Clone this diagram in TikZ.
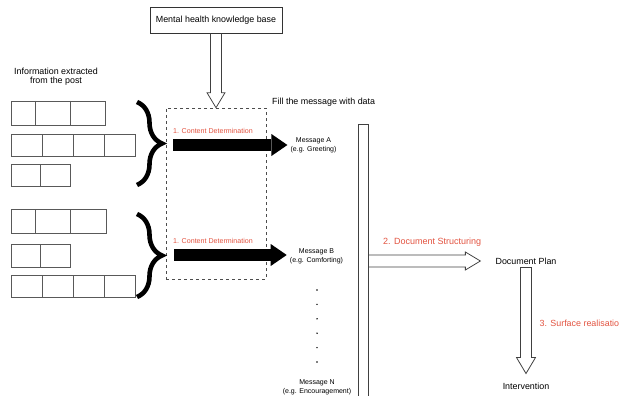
\documentclass[tikz,border=0pt]{standalone}
\usepackage{fontspec}
\setmainfont{Liberation Sans}
\usepackage{xcolor}
\usepackage{tikz}
\usetikzlibrary{arrows.meta,calc,decorations.pathreplacing}
\definecolor{stepred}{RGB}{226,83,64}

\begin{document}
\begin{tikzpicture}[
    x=1pt, y=-1pt,
    kbbox/.style={draw=black!80,line width=0.8pt,minimum width=132pt,minimum height=26pt,font=\fontsize{8.9}{10.5}\selectfont},
    txt/.style={font=\fontsize{8.9}{10.5}\selectfont,inner sep=3pt,align=center},
    msg/.style={font=\fontsize{7}{9.3}\selectfont,align=center,inner sep=3pt},
    steplabel/.style={text=stepred,inner sep=1pt},
    cell/.style={draw=black!65,line width=0.8pt},
    curly/.style={decorate,decoration={brace,amplitude=25pt},line width=4.6pt},
    fat/.style={line width=12pt,-{Triangle[length=16pt,width=22pt,line width=0pt]}},
    hollow/.style={draw=black!75,line width=0.8pt,line join=miter}
]
\useasboundingbox (0,0) rectangle (619,396);
\clip (0,0) rectangle (619,396);

%%% Top: knowledge base feeding the dashed box
\node[kbbox] (kb) at (216,20) {Mental health knowledge base};
\node[draw=black!70,dashed,line width=0.6pt,minimum width=100pt,minimum height=171pt,inner sep=0pt] (dash) at (216,193.5) {};
\node[txt,anchor=west] (fill) at (269,102) {Fill the message with data};
% open arrow kb -> dashed box
\draw[hollow] let \p1=(kb.south), \p2=(dash.north) in
    (\x1-5.5pt,\y1) -- (\x1-5.5pt,\y2+15pt) -- (\x1-9pt,\y2+15pt) -- (\x1,\y2)
    -- (\x1+9pt,\y2+15pt) -- (\x1+5.5pt,\y2+15pt) -- (\x1+5.5pt,\y1);

%%% Left: information extracted from the post
\node[txt] (info) at (56,77) {Information extracted\\[-1.2pt]from the post};
% first group of rows
\draw[cell] (11,101) rectangle (105,125) (35,101) -- (35,125) (70,101) -- (70,125);
\draw[cell] (11,134) rectangle (135,156) (42,134) -- (42,156) (73,134) -- (73,156) (104,134) -- (104,156);
\draw[cell] (11,164) rectangle (70,186) (40,164) -- (40,186);
% second group of rows
\draw[cell] (11,209) rectangle (106,233) (35,209) -- (35,233) (70,209) -- (70,233);
\draw[cell] (11,244) rectangle (70,267) (40,244) -- (40,267);
\draw[cell] (11,275) rectangle (135,297) (42,275) -- (42,297) (73,275) -- (73,297) (104,275) -- (104,297);
% braces gathering each group
\draw[curly] (137,102) -- (137,185);
\draw[curly] (137,214) -- (137,297);

%%% Middle: content determination -> messages
\node[msg] (msgA) at (313.5,145.5) {Message A\\(e.g. Greeting)};
\node[msg] (msgB) at (316.5,256) {Message B\\(e.g. Comforting)};
\node[msg] (msgN) at (317,387) {Message N\\(e.g. Encouragement)};
\coordinate (inA) at (173,145);
\coordinate (inB) at (174,255);
\draw[fat] (inA) -- (inA -| msgA.west);
\draw[fat] (inB) -- (inB -| msgB.west);
\node[steplabel,font=\fontsize{7.1}{8.5}\selectfont,anchor=west] (cdA) at (172,131) {1. Content Determination};
\node[steplabel,font=\fontsize{7.1}{8.5}\selectfont,anchor=west] (cdB) at (172,241) {1. Content Determination};
% vertical ellipsis between B and N
\foreach \yy in {290,304.4,318.8,333.2,347.6,362}
    \fill (317,\yy) circle (0.8pt);

%%% Right: document structuring and surface realisation
\node[draw=black!75,line width=0.8pt,minimum width=10pt,minimum height=290pt,inner sep=0pt,anchor=north] (bar) at (363,124) {};
\node[txt] (plan) at (526,261) {Document Plan};
\node[txt] (interv) at (526,386) {Intervention};
\node[steplabel,font=\fontsize{9}{11}\selectfont,anchor=west] (ds) at (382,242) {2. Document Structuring};
\node[steplabel,font=\fontsize{8.9}{11}\selectfont,anchor=west] (sr) at (538.5,323) {3. Surface realisatio};
% open arrow bar -> document plan
\draw[hollow] let \p1=(bar.east |- plan.west), \p2=([xshift=-12pt]plan.west) in
    (\x1,\y1+6pt) -- (\x2-15pt,\y1+6pt) -- (\x2-15pt,\y1+9pt) -- (\x2,\y1)
    -- (\x2-15pt,\y1-9pt) -- (\x2-15pt,\y1-6pt) -- (\x1,\y1-6pt);
% open arrow document plan -> intervention
\draw[hollow] let \p1=(plan.south), \p2=([yshift=6pt]interv.north) in
    (\x1-5.5pt,\y1) -- (\x1-5.5pt,\y2+16pt) -- (\x1-9.5pt,\y2+16pt) -- (\x1,\y2)
    -- (\x1+9.5pt,\y2+16pt) -- (\x1+5.5pt,\y2+16pt) -- (\x1+5.5pt,\y1) -- cycle;
\end{tikzpicture}
\end{document}
